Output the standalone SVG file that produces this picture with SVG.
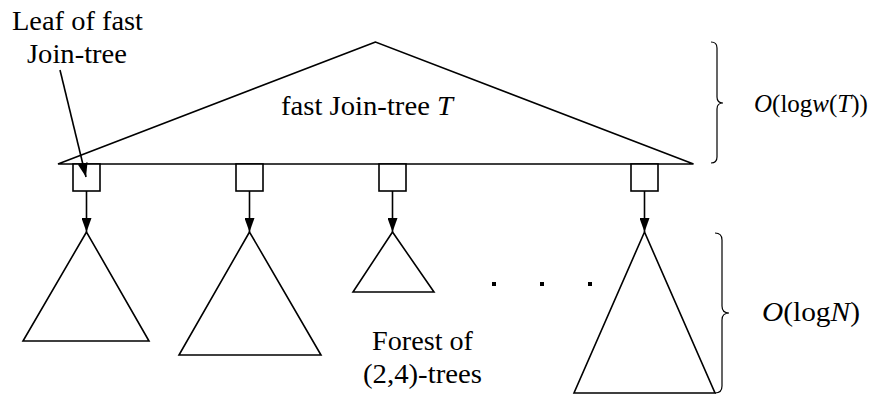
<svg xmlns="http://www.w3.org/2000/svg" width="873" height="396" viewBox="0 0 873 396">
  <style>
    .shape { fill: none; stroke: #000; stroke-width: 1.6; stroke-linejoin: miter; }
    .box { fill: #fff; stroke: #000; stroke-width: 1.6; }
    .edge { stroke: #000; stroke-width: 1.6; fill: none; }
    .brace { fill: none; stroke: #000; stroke-width: 1.2; }
    .label { font-family: 'Liberation Serif', 'Times New Roman', 'DejaVu Serif', serif; font-size: 27px; fill: #000; }
    .it { font-style: italic; }
  </style>
  <defs>
    <marker id="head" markerUnits="userSpaceOnUse" markerWidth="14" markerHeight="10" refX="14" refY="5" orient="auto">
      <path d="M0,0 L14,5 L0,10 z" fill="#000"/>
    </marker>
  </defs>

  <!-- top-level join tree -->
  <g id="join-tree">
    <polygon class="shape" points="375.5,42 58,164 693.5,164"/>
    <text class="label" x="281" y="115" textLength="172" lengthAdjust="spacingAndGlyphs">fast Join-tree <tspan class="it">T</tspan></text>
  </g>

  <!-- leaves of the join tree -->
  <g id="leaf1"><rect class="box" x="73" y="164" width="27" height="27"/></g>
  <g id="leaf2"><rect class="box" x="236" y="164" width="27" height="27"/></g>
  <g id="leaf3"><rect class="box" x="379" y="164" width="27" height="27"/></g>
  <g id="leaf4"><rect class="box" x="631" y="164" width="27" height="27"/></g>

  <!-- forest of (2,4)-trees -->
  <g id="tree1"><polygon class="shape" points="86.5,232 23,341 149,341"/></g>
  <g id="tree2"><polygon class="shape" points="249.5,232 179,355 321,355"/></g>
  <g id="tree3"><polygon class="shape" points="392.5,232 353,292 434,292"/></g>
  <g id="tree4"><polygon class="shape" points="644.5,232 574,393 715,393"/></g>

  <g id="ellipsis">
    <rect x="492" y="282" width="4" height="4" fill="#000"/>
    <rect x="540" y="282" width="4" height="4" fill="#000"/>
    <rect x="588" y="282" width="4" height="4" fill="#000"/>
  </g>

  <g id="forest-label">
    <text class="label" x="372" y="350" textLength="101" lengthAdjust="spacingAndGlyphs">Forest of</text>
    <text class="label" x="363" y="383" textLength="119" lengthAdjust="spacingAndGlyphs">(2,4)-trees</text>
  </g>

  <g id="leaf-label">
    <text class="label" x="12" y="30" textLength="131" lengthAdjust="spacingAndGlyphs">Leaf of fast</text>
    <text class="label" x="27" y="63" textLength="100" lengthAdjust="spacingAndGlyphs">Join-tree</text>
  </g>

  <!-- height braces -->
  <g id="height-top">
    <path class="brace" d="M711,42 Q717,42 717,48 L717,97 Q717,103 723,103 Q717,103 717,109 L717,157 Q717,163 711,163"/>
    <text class="label" x="754" y="112" style="font-size:25px"><tspan class="it">O</tspan>(log<tspan class="it">w</tspan>(<tspan class="it">T</tspan>))</text>
  </g>
  <g id="height-bottom">
    <path class="brace" d="M715,233 Q722,233 722,240 L722,306 Q722,313 729,313 Q722,313 722,320 L722,386 Q722,393 715,393"/>
    <text class="label" x="762" y="321" textLength="98" lengthAdjust="spacingAndGlyphs"><tspan class="it">O</tspan>(log<tspan class="it">N</tspan>)</text>
  </g>

  <!-- connectors -->
  <g id="connectors">
    <line class="edge" x1="60" y1="70" x2="86" y2="177" marker-end="url(#head)"/>
    <line class="edge" x1="86.5" y1="191" x2="86.5" y2="232" marker-end="url(#head)"/>
    <line class="edge" x1="249.5" y1="191" x2="249.5" y2="232" marker-end="url(#head)"/>
    <line class="edge" x1="392.5" y1="191" x2="392.5" y2="232" marker-end="url(#head)"/>
    <line class="edge" x1="644.5" y1="191" x2="644.5" y2="232" marker-end="url(#head)"/>
  </g>
</svg>
